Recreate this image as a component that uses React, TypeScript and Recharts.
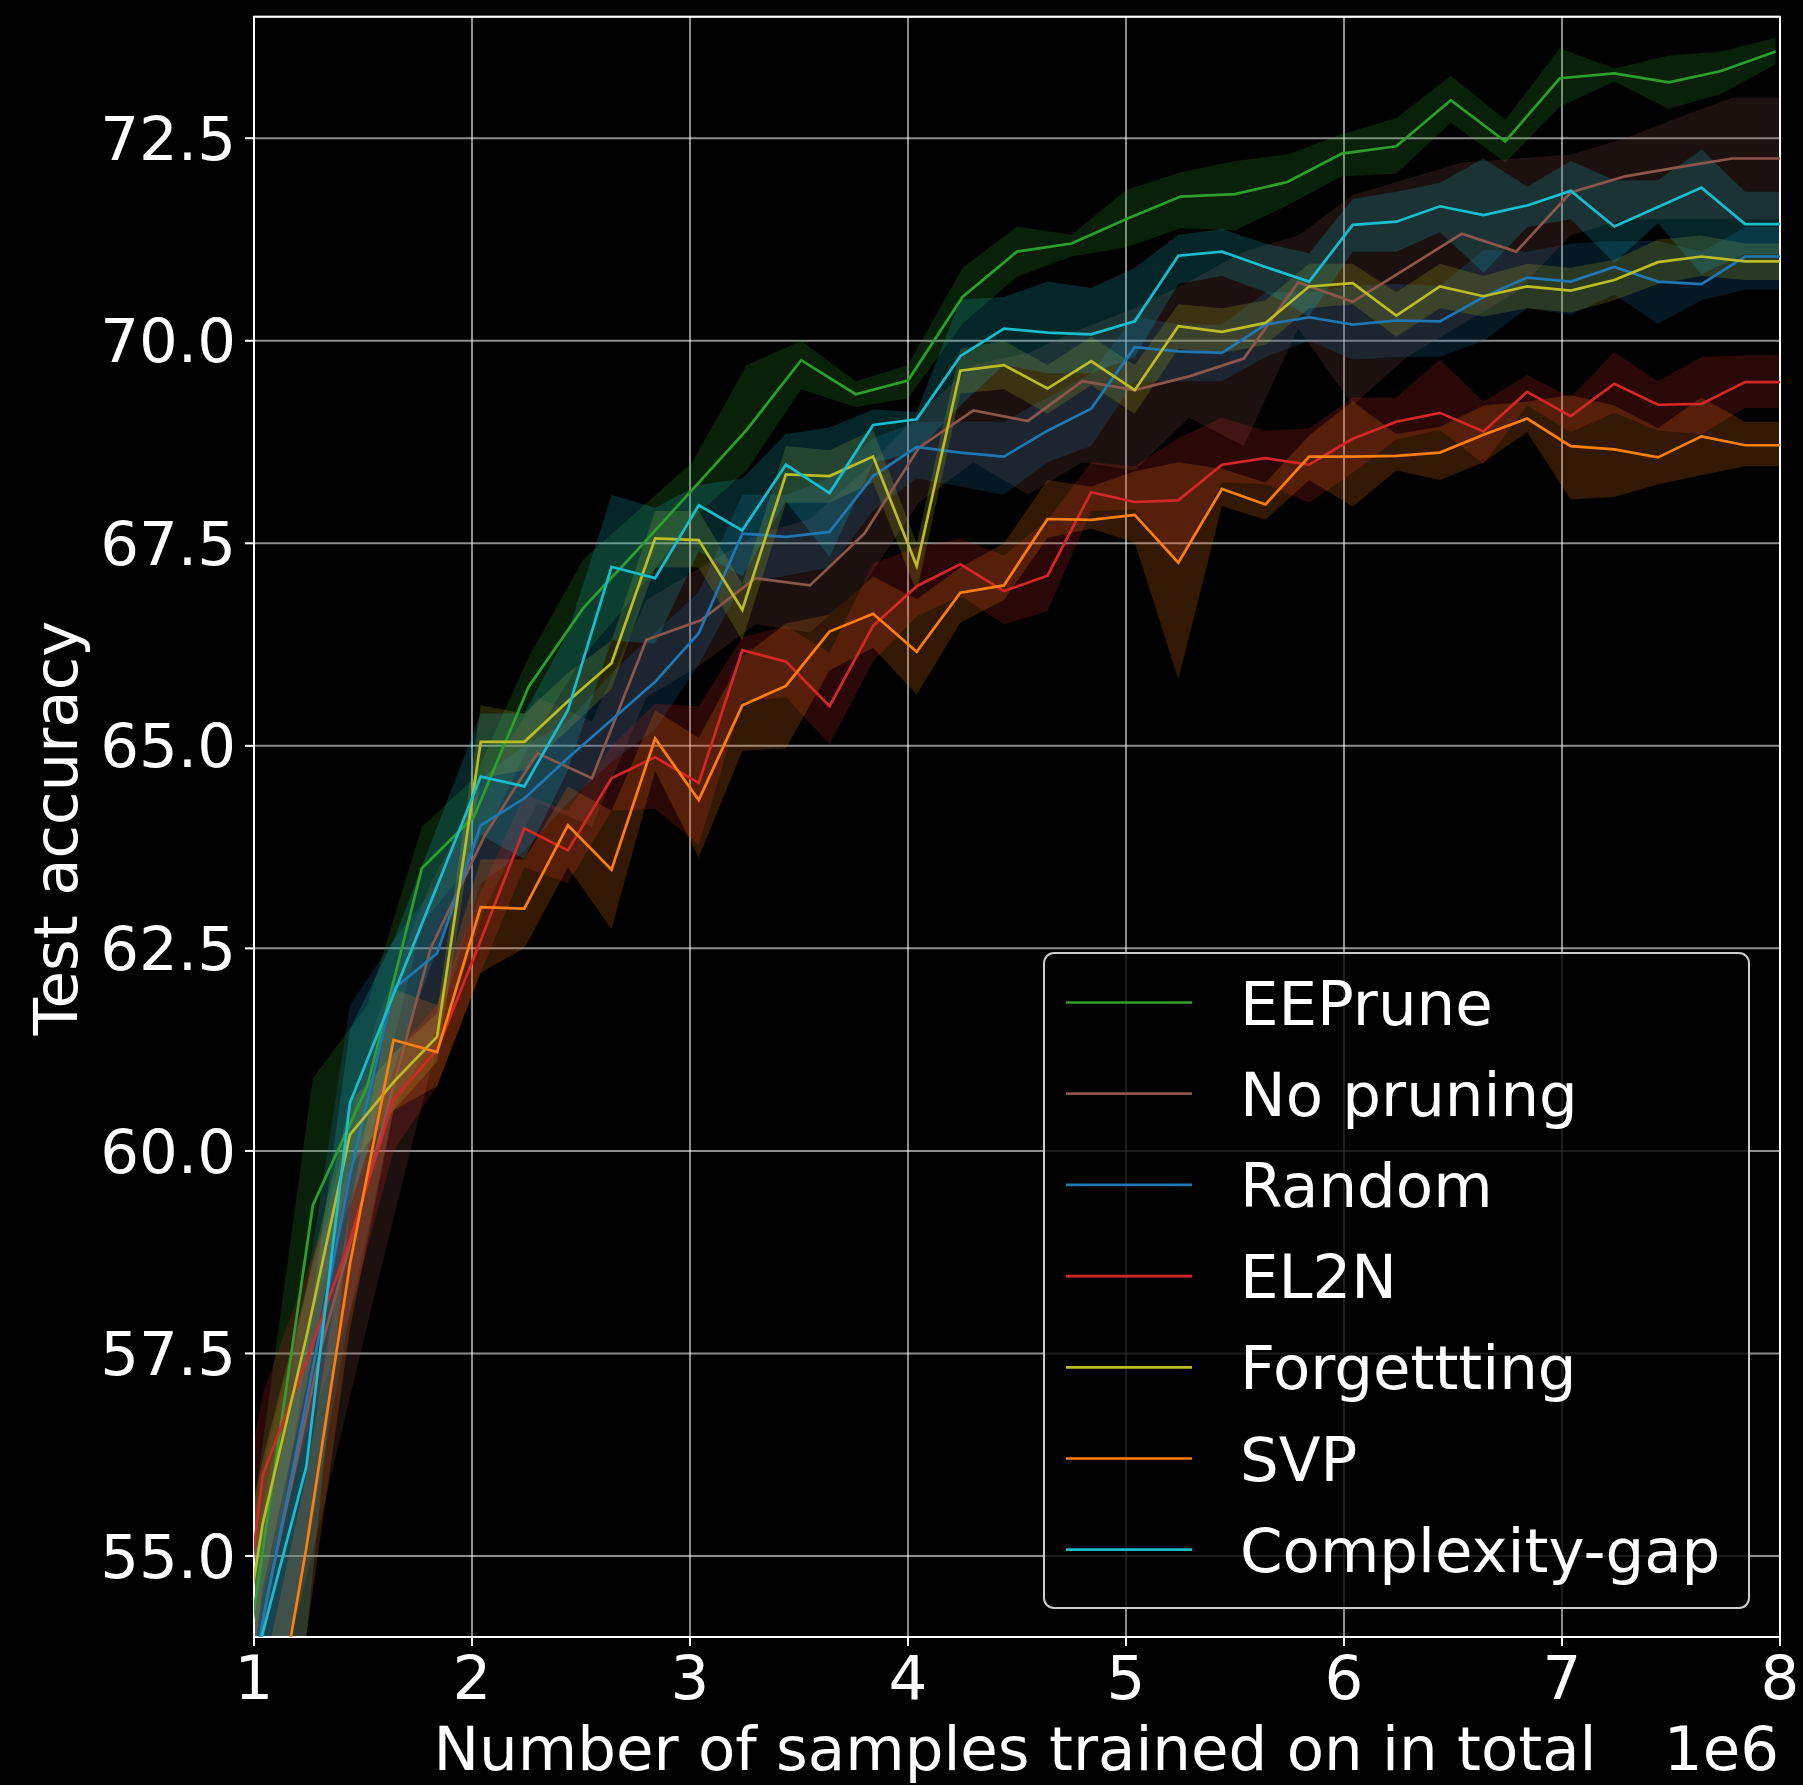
import {
	Area,
	CartesianGrid,
	ComposedChart,
	Line,
	ReferenceArea,
	XAxis,
	YAxis,
} from "recharts";

document.body.style.margin = "0";
document.body.style.background = "#000";

const FONT = "DejaVu Sans";

// samples trained (1e6): most methods are logged every 0.2e6,
// EEPrune and "No pruning" every ~0.25e6. First points sit left of the axis.
const xStep = [
	0.84, 1.04, 1.24, 1.44, 1.64, 1.84, 2.04, 2.24, 2.44, 2.64, 2.84, 3.04, 3.24,
	3.44, 3.64, 3.84, 4.04, 4.24, 4.44, 4.64, 4.84, 5.04, 5.24, 5.44, 5.64, 5.84,
	6.04, 6.24, 6.44, 6.64, 6.84, 7.04, 7.24, 7.44, 7.64, 7.84, 8.04,
];
const xEEPrune = [
	0.77, 1.02, 1.27, 1.52, 1.77, 2.01, 2.26, 2.51, 2.76, 3.01, 3.26, 3.51, 3.76,
	4.0, 4.25, 4.5, 4.75, 5.0, 5.25, 5.5, 5.74, 5.99, 6.24, 6.49, 6.74, 6.99,
	7.24, 7.49, 7.73, 7.98,
];
const xNoPruning = [
	0.81, 1.06, 1.31, 1.56, 1.81, 2.06, 2.3, 2.55, 2.8, 3.05, 3.3, 3.55, 3.8,
	4.05, 4.3, 4.55, 4.8, 5.04, 5.29, 5.54, 5.79, 6.04, 6.29, 6.54, 6.79, 7.04,
	7.29, 7.53, 7.78, 8.03,
];

const eePrune = [
	50.0, 54.7, 59.33, 60.8, 63.49, 64.13, 65.73, 66.7, 67.42, 68.16, 68.9, 69.76,
	69.34, 69.51, 70.54, 71.1, 71.2, 71.5, 71.78, 71.81, 71.96, 72.31, 72.4,
	72.97, 72.46, 73.24, 73.3, 73.19, 73.33, 73.57,
];
const eePruneLo = [
	47.5, 53.5, 58.0, 60.0, 62.8, 63.6, 65.0, 66.1, 66.9, 67.8, 68.4, 69.4, 69.18,
	69.29, 70.21, 70.79, 71.04, 71.15, 71.39, 71.36, 71.67, 72.03, 72.06, 72.69,
	72.2, 72.89, 73.2, 72.86, 73.05, 73.41,
];
const eePruneHi = [
	52.5, 56.0, 60.9, 61.8, 64.0, 64.6, 66.1, 67.3, 67.9, 68.5, 69.7, 70.0, 69.5,
	69.7, 70.9, 71.41, 71.31, 71.86, 72.08, 72.22, 72.3, 72.55, 72.75, 73.27,
	72.73, 73.61, 73.36, 73.52, 73.57, 73.74,
];

const noPruning = [
	50.5, 54.5, 57.6, 60.0, 62.5, 63.9, 64.91, 64.6, 66.31, 66.55, 67.07, 66.98,
	67.62, 68.68, 69.14, 69.01, 69.5, 69.39, 69.56, 69.78, 70.72, 70.48, 70.9,
	71.32, 71.1, 71.83, 72.03, 72.14, 72.25, 72.25,
];
const noPruningLo = [
	47.5, 52.8, 55.5, 58.3, 61.0, 63.0, 64.3, 64.0, 65.6, 66.0, 66.5, 66.4, 67.0,
	68.0, 68.5, 68.1, 68.5, 68.4, 69.05, 68.7, 70.15, 69.2, 69.8, 70.2, 70.6,
	71.3, 71.5, 71.5, 71.5, 71.5,
];
const noPruningHi = [
	53.0, 56.3, 59.0, 61.6, 63.3, 64.6, 65.6, 65.3, 66.8, 67.2, 67.6, 67.8, 68.4,
	69.1, 69.7, 69.85, 70.15, 70.4, 70.73, 71.1, 71.3, 71.8, 72.0, 72.2, 72.25,
	72.3, 72.5, 72.75, 73.0, 73.0,
];

const random = [
	51.0, 54.2, 56.9, 59.7, 62.0, 62.44, 64.02, 64.35, 64.85, 65.32, 65.79, 66.39,
	67.62, 67.58, 67.64, 68.33, 68.69, 68.62, 68.57, 68.89, 69.16, 69.92, 69.87,
	69.85, 70.2, 70.29, 70.2, 70.25, 70.24, 70.54, 70.78, 70.73, 70.91, 70.73,
	70.7, 71.04, 71.04,
];
const randomLo = [
	48.5, 52.5, 55.0, 58.0, 60.5, 61.5, 63.3, 63.7, 64.3, 64.8, 65.2, 66.0, 67.0,
	67.1, 67.2, 67.9, 68.3, 68.2, 68.1, 68.5, 68.7, 69.5, 69.5, 69.5, 69.8, 70.0,
	69.77, 69.8, 69.8, 70.0, 70.4, 70.32, 70.57, 70.21, 70.5, 70.63, 70.63,
];
const randomHi = [
	53.0, 55.6, 58.3, 61.8, 62.6, 63.3, 64.6, 65.0, 65.3, 65.9, 66.4, 66.9, 68.1,
	68.1, 68.3, 68.8, 69.0, 69.0, 69.0, 69.3, 69.6, 70.3, 70.2, 70.2, 70.6, 70.6,
	70.68, 70.7, 70.68, 71.12, 71.1, 71.2, 71.23, 71.23, 71.1, 71.4, 71.4,
];

const el2n = [
	51.5, 56.0, 57.4, 58.9, 60.63, 61.25, 62.6, 63.98, 63.71, 64.6, 64.86, 64.54,
	66.18, 66.04, 65.49, 66.48, 66.97, 67.24, 66.91, 67.1, 68.13, 68.01, 68.03,
	68.47, 68.55, 68.47, 68.79, 69.0, 69.11, 68.88, 69.37, 69.07, 69.47, 69.21,
	69.22, 69.49, 69.49,
];
const el2nLo = [
	49.0, 54.5, 56.5, 58.0, 60.0, 60.8, 62.2, 63.5, 63.3, 64.2, 64.22, 63.78,
	65.55, 65.6, 65.02, 66.04, 66.6, 66.85, 66.5, 66.66, 67.9, 67.92, 67.24,
	68.25, 68.23, 68.0, 68.37, 68.78, 68.9, 68.48, 69.2, 68.87, 69.11, 68.89,
	68.85, 69.17, 69.17,
];
const el2nHi = [
	54.0, 57.0, 58.5, 59.8, 61.2, 61.8, 63.2, 64.4, 64.2, 65.0, 65.52, 65.49,
	66.34, 66.48, 66.15, 67.25, 67.45, 67.56, 67.35, 67.79, 68.5, 68.45, 68.8,
	69.05, 68.89, 68.92, 69.3, 69.3, 69.77, 69.25, 69.58, 69.3, 69.86, 69.5, 69.8,
	69.82, 69.82,
];

const forgetting = [
	52.0, 55.4, 57.7, 60.2, 60.85, 61.41, 65.05, 65.05, 65.55, 66.02, 67.56,
	67.54, 66.68, 68.35, 68.33, 68.57, 67.22, 69.63, 69.7, 69.41, 69.75, 69.39,
	70.18, 70.11, 70.22, 70.67, 70.71, 70.31, 70.67, 70.55, 70.67, 70.62, 70.75,
	70.97, 71.04, 70.98, 70.98,
];
const forgettingLo = [
	50.5, 54.6, 57.1, 59.8, 60.5, 61.1, 64.6, 64.7, 65.2, 65.7, 67.2, 67.2, 66.3,
	68.0, 68.0, 68.25, 66.9, 69.35, 69.4, 69.1, 69.45, 69.1, 69.9, 69.85, 69.95,
	70.4, 70.45, 70.05, 70.4, 70.3, 70.4, 70.35, 70.5, 70.7, 70.8, 70.75, 70.75,
];
const forgettingHi = [
	53.5, 56.2, 58.3, 60.6, 61.2, 61.7, 65.5, 65.4, 65.9, 66.3, 67.9, 67.9, 67.0,
	68.7, 68.65, 68.9, 67.5, 69.9, 70.0, 69.7, 70.05, 69.7, 70.45, 70.4, 70.5,
	70.95, 70.95, 70.6, 70.95, 70.8, 70.95, 70.9, 71.0, 71.25, 71.3, 71.2, 71.2,
];

const svp = [
	48.0, 52.0, 55.1, 58.6, 61.37, 61.22, 63.01, 62.99, 64.02, 63.47, 65.09,
	64.33, 65.5, 65.74, 66.41, 66.63, 66.16, 66.89, 66.98, 67.8, 67.79, 67.85,
	67.26, 68.17, 67.98, 68.57, 68.57, 68.58, 68.62, 68.84, 69.04, 68.7, 68.66,
	68.56, 68.82, 68.71, 68.71,
];
const svpLo = [
	45.5, 50.5, 54.0, 57.8, 60.5, 60.8, 62.2, 62.5, 63.5, 62.74, 64.69, 63.62,
	64.94, 64.97, 65.93, 66.21, 65.63, 66.52, 66.8, 67.57, 67.68, 67.51, 65.82,
	67.96, 67.79, 68.28, 67.95, 68.4, 68.28, 68.5, 68.87, 68.04, 68.07, 68.23,
	68.34, 68.45, 68.45,
];
const svpHi = [
	50.5, 53.5, 56.0, 59.3, 62.0, 61.8, 63.6, 63.6, 64.5, 64.2, 65.44, 65.1, 66.1,
	66.51, 66.62, 67.09, 66.81, 67.2, 67.5, 68.28, 68.2, 68.39, 68.5, 68.42,
	68.25, 68.83, 69.25, 68.85, 68.94, 69.2, 69.25, 69.33, 69.2, 68.92, 69.3,
	69.0, 69.0,
];

const complexityGap = [
	52.0, 54.05, 56.1, 60.59, 61.93, 63.27, 64.62, 64.5, 65.44, 67.21, 67.07,
	67.97, 67.66, 68.47, 68.12, 68.96, 69.03, 69.81, 70.15, 70.1, 70.08, 70.24,
	71.05, 71.1, 70.91, 70.73, 71.43, 71.47, 71.66, 71.55, 71.67, 71.85, 71.41,
	71.65, 71.89, 71.44, 71.44,
];
const complexityGapLo = [
	49.5, 52.5, 54.0, 59.3, 61.0, 62.5, 63.9, 63.6, 64.7, 66.3, 66.26, 67.4,
	67.09, 68.02, 67.33, 68.49, 68.63, 69.2, 69.7, 69.6, 69.6, 69.8, 70.7, 70.8,
	70.6, 70.3, 71.1, 71.1, 71.34, 70.84, 71.4, 71.5, 70.96, 71.45, 70.82, 71.07,
	71.07,
];
const complexityGapHi = [
	54.0, 55.3, 57.6, 61.5, 62.6, 64.0, 65.4, 65.4, 66.4, 68.1, 67.94, 68.22,
	68.3, 68.85, 68.93, 69.15, 69.12, 70.51, 70.54, 70.73, 70.65, 70.9, 71.31,
	71.38, 71.2, 71.08, 71.75, 71.84, 71.95, 72.25, 71.9, 72.22, 71.98, 71.98,
	72.36, 71.84, 71.84,
];

const xTicks = [1, 2, 3, 4, 5, 6, 7, 8];
const yTicks = [55, 57.5, 60, 62.5, 65, 67.5, 70, 72.5];

const rows = (x: number[], m: number[], lo: number[], hi: number[]) =>
	x.map((v, i) => ({ x: v, m: m[i], band: [lo[i], hi[i]] }));

const series = [
	{ name: "EEPrune", color: "#2ca02c", data: rows(xEEPrune, eePrune, eePruneLo, eePruneHi) },
	{ name: "No pruning", color: "#8c564b", data: rows(xNoPruning, noPruning, noPruningLo, noPruningHi) },
	{ name: "Random", color: "#1f77b4", data: rows(xStep, random, randomLo, randomHi) },
	{ name: "EL2N", color: "#d62728", data: rows(xStep, el2n, el2nLo, el2nHi) },
	{ name: "Forgettting", color: "#bcbd22", data: rows(xStep, forgetting, forgettingLo, forgettingHi) },
	{ name: "SVP", color: "#ff7f0e", data: rows(xStep, svp, svpLo, svpHi) },
	{ name: "Complexity-gap", color: "#17becf", data: rows(xStep, complexityGap, complexityGapLo, complexityGapHi) },
];

const tickStyle = { fill: "#fff", fontSize: 61, fontFamily: FONT };

const LegendBox = () => (
	<svg
		style={{ position: "absolute", left: 1043, top: 952 }}
		width={708}
		height={658}
	>
		<rect
			x={1}
			y={1}
			width={705}
			height={655}
			rx={10}
			fill="rgba(0,0,0,0.8)"
			stroke="#cccccc"
			strokeWidth={2}
		/>
		{series.map((s, i) => {
			const y = 50.5 + i * 91.2;
			return (
				<g key={s.name}>
					<line x1={23} x2={149} y1={y} y2={y} stroke={s.color} strokeWidth={2.7} />
					<text x={197} y={y + 22} fill="#fff" fontSize={61} fontFamily={FONT}>
						{s.name}
					</text>
				</g>
			);
		})}
	</svg>
);

const Labels = () => (
	<svg
		style={{ position: "absolute", left: 0, top: 0, pointerEvents: "none" }}
		width={1803}
		height={1785}
	>
		<text
			x={77}
			y={828}
			transform="rotate(-90 77 828)"
			textAnchor="middle"
			fill="#fff"
			fontSize={61}
			fontFamily={FONT}
		>
			Test accuracy
		</text>
		<text x={1015} y={1770} textAnchor="middle" fill="#fff" fontSize={61} fontFamily={FONT}>
			Number of samples trained on in total
		</text>
		<text x={1779} y={1770} textAnchor="end" fill="#fff" fontSize={61} fontFamily={FONT}>
			1e6
		</text>
	</svg>
);

export default function App() {
	return (
		<div style={{ position: "relative", width: 1803, height: 1785, background: "#000" }}>
			<ComposedChart
				width={1803}
				height={1785}
				margin={{ top: 16.7, right: 23, left: 0, bottom: 0 }}
			>
				<CartesianGrid stroke="#fff" strokeOpacity={0.55} strokeWidth={2} />
				<XAxis
					type="number"
					dataKey="x"
					domain={[1, 8]}
					allowDataOverflow
					ticks={xTicks}
					interval={0}
					height={148}
					axisLine={false}
					stroke="#fff"
					tickLine={{ stroke: "#fff", strokeWidth: 2 }}
					tickSize={9}
					tickMargin={10}
					tick={tickStyle}
				/>
				<YAxis
					type="number"
					domain={[54, 74]}
					allowDataOverflow
					ticks={yTicks}
					interval={0}
					width={254}
					axisLine={false}
					stroke="#fff"
					tickLine={{ stroke: "#fff", strokeWidth: 2 }}
					tickSize={9}
					tickMargin={9}
					tick={tickStyle}
					tickFormatter={(v: number) => v.toFixed(1)}
				/>
				{series.map((s) => (
					<Area
						key={`${s.name}-band`}
						data={s.data}
						dataKey="band"
						type="linear"
						stroke="none"
						fill={s.color}
						fillOpacity={0.2}
						isAnimationActive={false}
						legendType="none"
					/>
				))}
				{series.map((s) => (
					<Line
						key={s.name}
						data={s.data}
						dataKey="m"
						name={s.name}
						type="linear"
						stroke={s.color}
						strokeWidth={2.7}
						dot={false}
						activeDot={false}
						isAnimationActive={false}
					/>
				))}
				<ReferenceArea
					x1={1}
					x2={8}
					y1={54}
					y2={74}
					fill="none"
					stroke="#fff"
					strokeWidth={2}
					ifOverflow="visible"
				/>
			</ComposedChart>
			<LegendBox />
			<Labels />
		</div>
	);
}
